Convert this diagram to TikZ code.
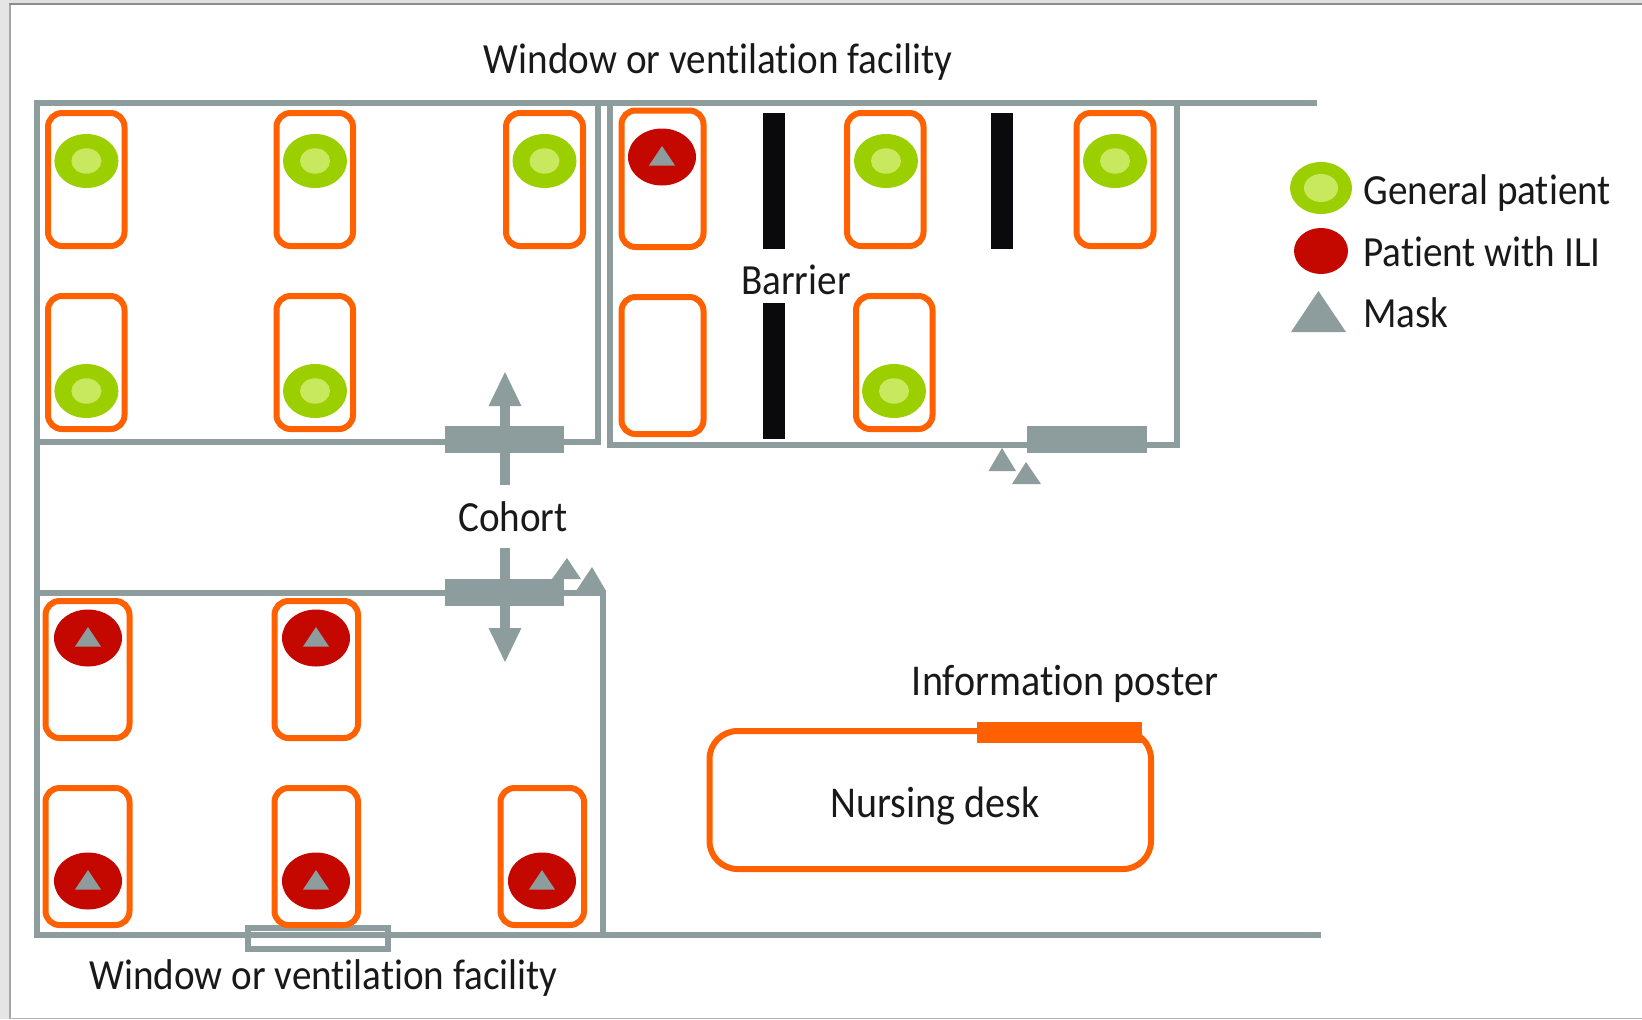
\documentclass[tikz,border=0pt]{standalone}
\usepackage{fontspec}
\setmainfont[Ligatures=NoCommon,FakeStretch=0.91]{Carlito}
\usetikzlibrary{arrows.meta}
\definecolor{wall}{HTML}{8D9C9C}
\definecolor{bedc}{HTML}{FF6000}
\definecolor{gr}{HTML}{9BCF00}
\definecolor{lgr}{HTML}{C8E85E}
\definecolor{rd}{HTML}{C40800}
\definecolor{bar}{HTML}{0A0A0C}
\tikzset{
  x=0.5pt,y=-0.5pt,
  wallline/.style={draw=wall,line width=3pt,line cap=butt},
  thinwall/.style={draw=wall,line width=2.7pt,line join=miter},
  bedbox/.style={draw=bedc,line width=3pt,rounded corners=7pt},
  door/.style={fill=wall,draw=none,inner sep=0pt,minimum width=59.75pt,minimum height=13.5pt},
  bigarrow/.style={draw=wall,line width=4.7pt,-{Triangle[length=17.5pt,width=15pt]}},
  lab/.style={inner sep=0pt,text=black!90,font=\fontsize{21.5}{25}\selectfont},
  labwide/.style={inner sep=0pt,text=black!90,font=\fontsize{22}{25}\selectfont},
  mask/.style={fill=wall,draw=none},
  barrier/.style={fill=bar,draw=none}
}
\newcommand{\bedat}[4]{\draw[bedbox] (#1,#3) rectangle (#2,#4);}
\newcommand{\gpat}[2]{\fill[gr] (#1,#2) ellipse [x radius=32,y radius=27];\fill[lgr] (#1,#2) ellipse [x radius=15,y radius=12.7];}
\newcommand{\rpat}[2]{\fill[rd] (#1,#2) ellipse [x radius=34,y radius=28.5];\fill[mask] (#1,#2-11) -- (#1-13,#2+8.5) -- (#1+13,#2+8.5) -- cycle;}
\begin{document}
\begin{tikzpicture}
\useasboundingbox (0,0) rectangle (1642,1019);
% frame
\fill[white] (0,0) rectangle (1642,1019);
\fill[black!12] (0,0) rectangle (1642,3);
\fill[black!45] (0,3) rectangle (1642,5);
\fill[black!10!white] (0,0) rectangle (9,1019);
\fill[black!35] (9,5) rectangle (10.5,1019);
\fill[black!30] (10,1017.5) rectangle (1642,1019);
% walls
\draw[wallline] (34,103) -- (1317,103);
\draw[wallline] (37,100) -- (37,938);
\draw[wallline] (34,935) -- (1321,935);
\draw[thinwall] (598,103) -- (598,442) -- (37,442);
\draw[thinwall] (610,103) -- (610,445) -- (1177,445) -- (1177,103);
\draw[thinwall] (37,593) -- (603,593) -- (603,935);
% window
\draw[draw=wall,line width=2.6pt,fill=white] (248,928) rectangle (388,949);
\draw[wallline] (248,935) -- (388,935);
% beds, upper left
\bedat{48}{124.5}{113}{246}\bedat{276.5}{353}{113}{246}\bedat{506}{583}{113}{246}
\bedat{48}{124.5}{296}{429}\bedat{276.5}{353}{296}{429}
% beds, upper right
\bedat{621.5}{703.5}{110.5}{247}\bedat{847}{923.5}{113}{246}\bedat{1076.5}{1153.5}{113}{246}
\bedat{621.5}{703.5}{297}{434}\bedat{856}{932.5}{296}{429}
% beds, lower
\bedat{45.5}{129.5}{601}{738}\bedat{274.5}{358}{601}{738}
\bedat{45.5}{129.5}{788}{925}\bedat{274.5}{358}{788}{925}\bedat{500.5}{584}{788}{925}
% patients
\gpat{86.4}{161}\gpat{315}{161}\gpat{544.5}{161}\gpat{86.4}{391}\gpat{315}{391}
\gpat{886}{161}\gpat{1115}{161}\gpat{894}{391}
\rpat{662}{157}
\rpat{88}{638}\rpat{316}{638}\rpat{88}{881}\rpat{316}{881}\rpat{542}{881}
% barriers
\fill[barrier] (763,113) rectangle (785,249);
\fill[barrier] (763,303) rectangle (785,439);
\fill[barrier] (991,113) rectangle (1013,249);
% doors and arrows
\coordinate (a1s) at (505,485);\coordinate (a1t) at (505,371);
\coordinate (a2s) at (505,548);\coordinate (a2t) at (505,663);
\node[door] (d1) at (504.5,439.5) {};
\node[door] (d2) at (504.5,592.5) {};
\node[door] (d3) at (1087,439.5) {};
\draw[bigarrow] (a1s) -- (a1t);
\draw[bigarrow] (a2s) -- (a2t);
% loose masks
\fill[mask] (567,558) -- (552,579) -- (581,579) -- cycle;
\fill[mask] (592,567) -- (576,591) -- (606,591) -- cycle;
\fill[mask] (1002,448) -- (988.5,471) -- (1016,471) -- cycle;
\fill[mask] (1026,462) -- (1012,484) -- (1041,484) -- cycle;
% nursing desk
\draw[draw=bedc,line width=3pt,rounded corners=14pt] (709.5,731) rectangle (1151,869);
\fill[bedc] (977,722) rectangle (1141.5,743);
% legend
\fill[gr] (1321,188) ellipse [x radius=31,y radius=26];
\fill[lgr] (1321,188) ellipse [x radius=17,y radius=14];
\fill[rd] (1321,251) ellipse [x radius=27,y radius=23];
\fill[mask] (1318.4,291) -- (1291,332) -- (1346,332) -- cycle;
% text
\node[lab] (t1) at (718,62) {Window or ventilation facility};
\node[lab] (t2) at (323.5,978) {Window or ventilation facility};
\node[lab] (t3) at (796,280) {Barrier};
\node[lab] (t4) at (513,517) {Cohort};
\node[labwide] (t5) at (1065,684) {Information poster};
\node[labwide] (t6) at (935,806) {Nursing desk};
\node[lab,anchor=west] (t7) at (1363,193) {General patient};
\node[lab,anchor=west] (t8) at (1363,252) {Patient with ILI};
\node[lab,anchor=west] (t9) at (1363,313) {Mask};
\end{tikzpicture}
\end{document}
